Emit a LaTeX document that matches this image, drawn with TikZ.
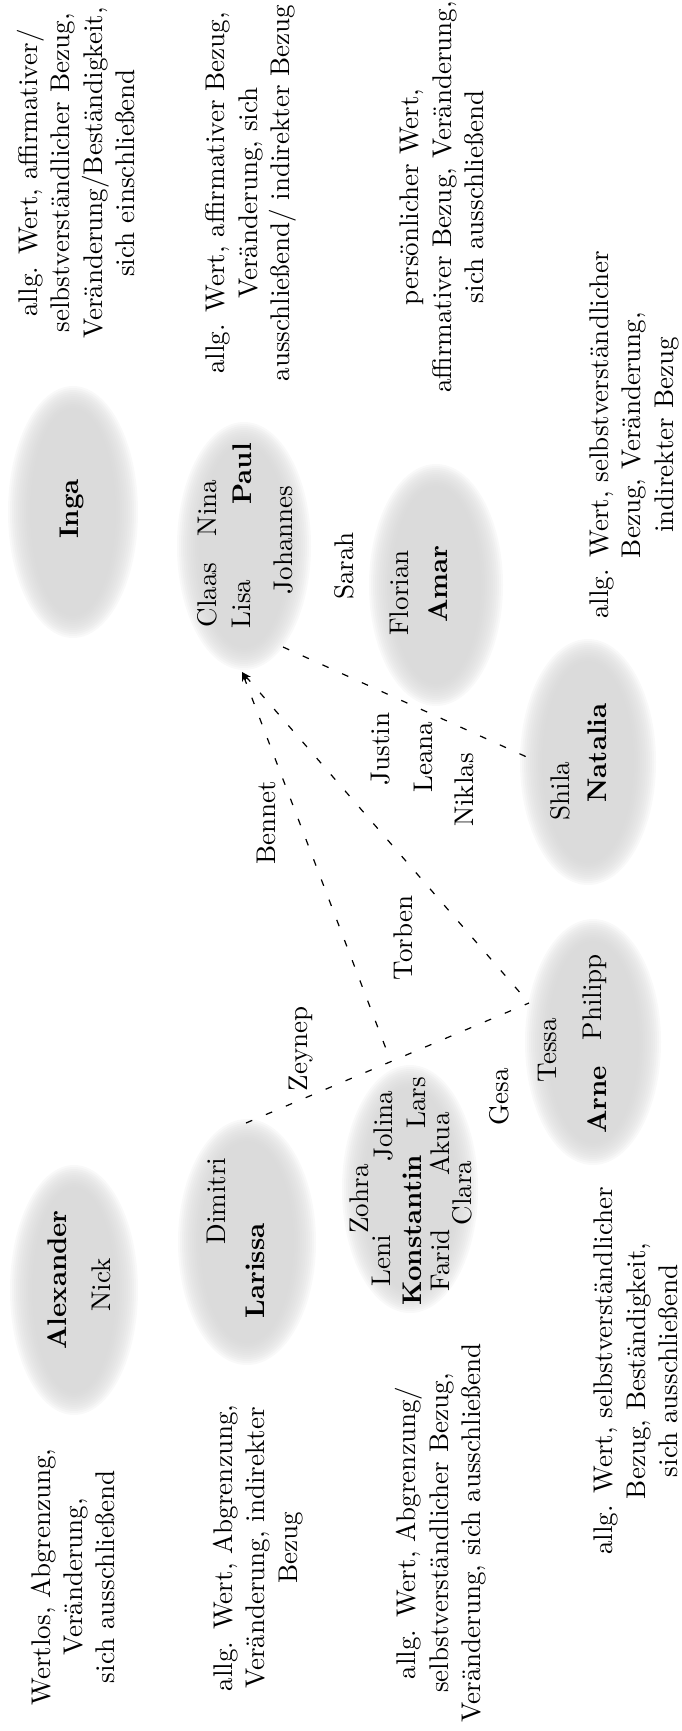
\documentclass[tikz,border=0pt]{standalone}
\usepackage{fontspec}
\usetikzlibrary{shapes.geometric,arrows.meta,calc}
\definecolor{blobcol}{gray}{0.83}
\newcommand\blob[5]{%
  \foreach \k in {0,...,11}{\fill[blobcol, fill opacity=0.14] (#2,#3) ellipse ({#4+11-2*\k} and {#5+11-2*\k});}
  \node[ellipse, inner sep=0pt, minimum width={2*#4*0.37pt}, minimum height={2*#5*0.37pt}] (#1) at (#2,#3) {};
}
\tikzset{
  pname/.style={rotate=90, inner sep=1pt},
  pbold/.style={pname, font=\bfseries},
  desc/.style={rotate=90, align=center, inner sep=1pt},
  conn/.style={line width=0.45pt, dash pattern=on 2.5pt off 5.5pt},
  tip/.style={{Stealth[length=3.5pt,width=2.6pt]}-}
}
\begin{document}
\begin{tikzpicture}[x=0.37pt,y=-0.37pt]
\useasboundingbox (0,0) rectangle (682,1731);
% ellipses
\blob{inga}{73}{512}{54}{115}
\blob{paul}{244}{546}{56}{113}
\blob{amar}{436}{585}{56}{110}
\blob{natalia}{588}{762}{57}{112}
\blob{arne}{593}{1042}{57}{112}
\blob{larissa}{247}{1242}{58}{112}
\blob{alexander}{74}{1290}{53}{114}
\blob{konstantin}{410}{1189}{57}{113}
% description texts
\node[desc] (t1) at (76,173) {allg. Wert, affirmativer/\\selbstverständlicher Bezug,\\Veränderung/Beständigkeit,\\sich einschließend};
\node[desc] (t2) at (251,193) {allg. Wert, affirmativer Bezug,\\Veränderung, sich\\ausschließend/ indirekter Bezug};
\node[desc] (t3) at (442,197) {persönlicher Wert,\\affirmativer Bezug, Veränderung,\\sich ausschließend};
\node[desc] (t4) at (634,435) {allg. Wert, selbstverständlicher\\Bezug, Veränderung,\\indirekter Bezug};
\node[desc] (b1) at (73,1577) {Wertlos, Abgrenzung,\\Veränderung,\\sich ausschließend};
\node[desc] (b2) at (258,1548) {allg. Wert, Abgrenzung,\\Veränderung, indirekter\\Bezug};
\node[desc] (b3) at (441,1533) {allg. Wert, Abgrenzung/\\selbstverständlicher Bezug,\\Veränderung, sich ausschließend};
\node[desc] (b4) at (636,1371) {allg. Wert, selbstverständlicher\\Bezug, Beständigkeit,\\sich ausschließend};
% names
\node[pbold] (ninga) at (72,509) {Inga};
\node[pname] (claas) at (207,595) {Claas};
\node[pname] (nina) at (207,508) {Nina};
\node[pname] (lisa) at (241,604) {Lisa};
\node[pbold] (npaul) at (242,474) {Paul};
\node[pname] (johannes) at (283,540) {Johannes};
\node[pname] (sarah) at (344,566) {Sarah};
\node[pname] (florian) at (399,593) {Florian};
\node[pbold] (namar) at (438,584) {Amar};
\node[pname] (shila) at (560,791) {Shila};
\node[pbold] (nnatalia) at (597,753) {Natalia};
\node[pname] (justin) at (381,749) {Justin};
\node[pname] (leana) at (423,757) {Leana};
\node[pname] (niklas) at (464,790) {Niklas};
\node[pname] (bennet) at (266,823) {Bennet};
\node[pname] (torben) at (403,938) {Torben};
\node[pname] (zeynep) at (301,1049) {Zeynep};
\node[pname] (tessa) at (547,1050) {Tessa};
\node[pname] (philipp) at (595,997) {Philipp};
\node[pbold] (narne) at (597,1100) {Arne};
\node[pname] (gesa) at (499,1097) {Gesa};
\node[pname] (dimitri) at (216,1201) {Dimitri};
\node[pbold] (nlarissa) at (255,1271) {Larissa};
\node[pbold] (nalexander) at (57,1280) {Alexander};
\node[pname] (nick) at (101,1285) {Nick};
\node[pname] (zohra) at (359,1199) {Zohra};
\node[pname] (jolina) at (383,1126) {Jolina};
\node[pname] (leni) at (381,1261) {Leni};
\node[pname] (lars) at (416,1103) {Lars};
\node[pbold] (nkonstantin) at (412,1230) {Konstantin};
\node[pname] (akua) at (440,1144) {Akua};
\node[pname] (farid) at (440,1260) {Farid};
\node[pname] (clara) at (462,1193) {Clara};
% connectors
\coordinate (paulpt) at (242,672);
\coordinate (arnept) at (529,1003);
\coordinate (larpt) at (246,1123);
\coordinate (natpt) at (529,758);
\coordinate (paulpt2) at (283,647);
\coordinate (konpt) at ($(larpt)!0.512!(arnept)$);
\draw[conn] (paulpt2) -- (natpt);
\draw[conn, tip] (paulpt) -- (arnept);
\draw[conn, tip] (paulpt) -- (konpt);
\draw[conn] (larpt) -- (arnept);
\end{tikzpicture}
\end{document}
